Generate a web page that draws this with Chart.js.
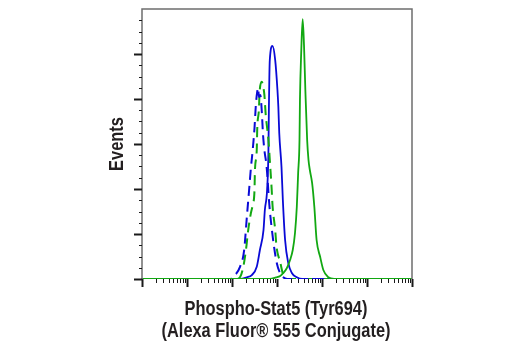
<!DOCTYPE html>
<html>
<head>
<meta charset="utf-8">
<script src="https://cdn.jsdelivr.net/npm/chart.js@4.4.1/dist/chart.umd.min.js"></script>
<style>
  html, body { margin: 0; padding: 0; background: #ffffff; }
  #wrap { width: 520px; height: 350px; }
</style>
</head>
<body>
<div id="wrap"><canvas id="hist" width="520" height="350"></canvas></div>
<script>
// fluorescence in decades (log10), events per channel
const blueDashX = [0, 1.84, 1.96, 2.03, 2.18, 2.27, 2.33, 2.38, 2.42, 2.46, 2.50, 2.53, 2.56, 2.58, 2.60, 2.63, 2.66, 2.69, 2.72, 2.77, 2.83, 2.90, 2.99, 3.07, 3.14, 3.22, 6];
const blueDashY = [0, 0, 0, 2.6, 13.7, 32.2, 68.9, 98.9, 123.3, 143.3, 167.8, 193.3, 207.8, 212.2, 202.2, 204.4, 187.8, 160, 143.3, 124.4, 82.2, 48.9, 18.9, 6.3, 1.9, 0, 0];

const greenDashX = [0, 2.09, 2.18, 2.25, 2.31, 2.36, 2.42, 2.46, 2.50, 2.51, 2.55, 2.56, 2.60, 2.61, 2.66, 2.70, 2.72, 2.75, 2.81, 2.84, 2.88, 2.90, 2.96, 2.99, 3.07, 3.14, 3.24, 6];
const greenDashY = [0, 0, 2.2, 13.3, 32.2, 54.4, 73.3, 82.2, 98.9, 121.1, 143.3, 165.6, 190, 204.4, 219.2, 212.2, 204.4, 182.2, 154.4, 132.2, 101.1, 82.2, 54.4, 35.6, 18.9, 4.4, 0, 0];

const greenSolidX = [0, 2.84, 2.98, 3.07, 3.14, 3.22, 3.29, 3.35, 3.40, 3.44, 3.47, 3.50, 3.51, 3.54, 3.57, 3.60, 3.63, 3.67, 3.70, 3.73, 3.78, 3.83, 3.88, 3.96, 4.03, 4.14, 4.27, 6];
const greenSolidY = [0, 0, 1.7, 3.3, 6.7, 12.2, 21.1, 32.2, 51.1, 80, 117.8, 154.4, 198.9, 254.4, 288.6, 260, 210, 154.4, 132.2, 121.1, 106.7, 80, 43.3, 24.4, 10, 1.9, 0, 0];

const blueSolidX = [0, 2.18, 2.33, 2.44, 2.55, 2.62, 2.70, 2.73, 2.78, 2.81, 2.82, 2.83, 2.84, 2.90, 2.96, 3.01, 3.03, 3.05, 3.10, 3.13, 3.18, 3.25, 3.33, 3.44, 3.56, 6];
const blueSolidY = [0, 0, 1.9, 4.4, 13.7, 32.2, 54.4, 76.7, 98.9, 143.3, 191.1, 224.4, 243.3, 258.9, 243.3, 210, 191.1, 162.2, 124.4, 87.8, 43.3, 17.8, 6.7, 1.9, 0, 0];

const decades = [0, 1, 2, 3, 4, 5, 6];
const yMajor = [0, 50, 100, 150, 200, 250];
const yMax = 300;

const xTitle = ["Phospho-Stat5 (Tyr694)", "(Alexa Fluor\u00ae 555 Conjugate)"];
const yTitle = "Events";

const BLUE = "#0a0ad6";
const GREEN = "#12a812";
const TEXT = "#231f20";
const TITLE_FONT = "bold 20px 'Liberation Sans', Arimo, Arial, sans-serif";
const SQUEEZE = 0.82; // condensed look

function pts(xs, ys) {
  return xs.map((x, i) => ({ x: x, y: ys[i] }));
}

//axis ticks (long on decades, short in between), plot frame and titles
const frameTicks = {
  id: "frameTicks",
  afterDraw(chart) {
    const ctx = chart.ctx;
    const a = chart.chartArea;
    const xs = chart.scales.x;
    const ys = chart.scales.y;
    ctx.save();
    ctx.strokeStyle = "#6e6e6e";
    ctx.lineWidth = 1.5;
    ctx.beginPath();
    ctx.moveTo(a.left, a.bottom);
    ctx.lineTo(a.left, a.top);
    ctx.lineTo(a.right, a.top);
    ctx.lineTo(a.right, a.bottom);
    ctx.stroke();

    ctx.strokeStyle = "#1a1a1a";
    //x: decades
    decades.forEach((d) => {
      const px = Math.round(xs.getPixelForValue(d)) + 0.5;
      ctx.lineWidth = 2;
      ctx.beginPath();
      ctx.moveTo(px, a.bottom);
      ctx.lineTo(px, a.bottom + 8);
      ctx.stroke();
      if (d < 6) {
        ctx.lineWidth = 1;
        for (let k = 2; k <= 9; k++) {
          const mx = Math.round(xs.getPixelForValue(d + Math.log10(k))) + 0.5;
          ctx.beginPath();
          ctx.moveTo(mx, a.bottom);
          ctx.lineTo(mx, a.bottom + 4);
          ctx.stroke();
        }
      }
    });
    //y: major and minor
    yMajor.forEach((v) => {
      const py = Math.round(ys.getPixelForValue(v)) + 0.5;
      ctx.lineWidth = 2;
      ctx.beginPath();
      ctx.moveTo(a.left, py);
      ctx.lineTo(a.left - 8, py);
      ctx.stroke();
      ctx.lineWidth = 1;
      for (let j = 1; j < 4; j++) {
        const my = Math.round(ys.getPixelForValue(v + j * 12.5)) + 0.5;
        ctx.beginPath();
        ctx.moveTo(a.left, my);
        ctx.lineTo(a.left - 3, my);
        ctx.stroke();
      }
    });

    //axis titles, narrow bold
    ctx.fillStyle = TEXT;
    ctx.font = TITLE_FONT;
    ctx.textAlign = "center";
    ctx.textBaseline = "alphabetic";
    const cx = (a.left + a.right) / 2 - 1;
    xTitle.forEach((line, i) => {
      ctx.save();
      ctx.translate(cx, a.bottom + 35.5 + i * 22);
      ctx.scale(SQUEEZE, 1);
      ctx.fillText(line, 0, 0);
      ctx.restore();
    });
    ctx.save();
    ctx.translate(a.left - 19.5, (a.top + a.bottom) / 2);
    ctx.rotate(-Math.PI / 2);
    ctx.scale(SQUEEZE, 1);
    ctx.fillText(yTitle, 0, 0);
    ctx.restore();

    ctx.restore();
  },
};

const common = {
  pointRadius: 0,
  fill: false,
  cubicInterpolationMode: "monotone",
};

new Chart(document.getElementById("hist"), {
  type: "line",
  plugins: [frameTicks],
  data: {
    datasets: [
      { ...common, data: pts(greenSolidX, greenSolidY), borderColor: GREEN, borderWidth: 1.8 },
      { ...common, data: pts(blueDashX, blueDashY), borderColor: BLUE, borderWidth: 2, borderDash: [10, 6] },
      { ...common, data: pts(greenDashX, greenDashY), borderColor: GREEN, borderWidth: 2, borderDash: [10, 6] },
      { ...common, data: pts(blueSolidX, blueSolidY), borderColor: BLUE, borderWidth: 1.8 },
    ],
  },
  options: {
    responsive: false,
    animation: false,
    layout: { padding: { top: 9, right: 108, left: 0, bottom: 0 } },
    plugins: {
      legend: { display: false },
      tooltip: { enabled: false },
    },
    scales: {
      x: {
        type: "linear",
        min: 0,
        max: 6,
        grid: { display: false },
        border: { display: false },
        ticks: { display: false },
        afterFit: (s) => { s.height = 71; },
      },
      y: {
        min: 0,
        max: yMax,
        grid: { display: false },
        border: { display: false },
        ticks: { display: false },
        afterFit: (s) => { s.width = 142; },
      },
    },
  },
});
</script>
</body>
</html>
